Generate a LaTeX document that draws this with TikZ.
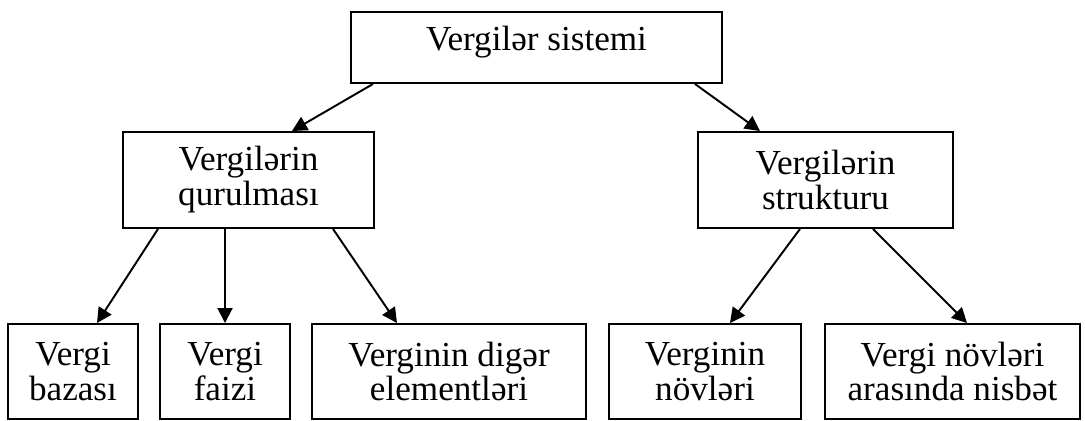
\documentclass[tikz,border=0pt]{standalone}
\usepackage{fontspec}
\setmainfont{Liberation Serif}
\usetikzlibrary{arrows.meta}
\usetikzlibrary{calc}
\tikzset{taxbox/.style={draw,rectangle,line width=1.1pt,inner sep=0pt,align=center,
                        font=\fontsize{20}{19.9}\selectfont},
         link/.style={line width=1.1pt,-{Triangle[length=0.3cm,width=0.3cm]}},
         }
\begin{document}
\begin{tikzpicture}[x=0.02cm, y=-0.02cm]
\useasboundingbox (0,0) rectangle (1085,421);
\node[taxbox, minimum width=371*0.02cm, minimum height=71*0.02cm,
      text height=0.48cm, text depth=0.36cm] (system) at (536.5,47.5) {Vergilər sistemi};
\node[taxbox, minimum width=251*0.02cm, minimum height=96*0.02cm] (build) at (248.5,180) {Vergilərin\\qurulması};
\node[taxbox, minimum width=255*0.02cm, minimum height=96*0.02cm] (struct) at (825.5,180) {Vergilərin\\strukturu};
\node[taxbox, minimum width=130*0.02cm, minimum height=95*0.02cm] (base) at (73,371.5) {Vergi\\bazası};
\node[taxbox, minimum width=130*0.02cm, minimum height=95*0.02cm] (rate) at (225,371.5) {Vergi\\faizi};
\node[taxbox, minimum width=274*0.02cm, minimum height=95*0.02cm] (other) at (449,371.5) {Verginin digər\\elementləri};
\node[taxbox, minimum width=192*0.02cm, minimum height=95*0.02cm] (kinds) at (705,371.5) {Verginin\\növləri};
\node[taxbox, minimum width=255*0.02cm, minimum height=95*0.02cm] (ratio) at (952.5,371.5) {Vergi növləri\\arasında nisbət};

\draw[link] ($(system.south)+(-163.5,0)$) -- ($(build.north)+(43.5,0)$);
\draw[link] ($(system.south)+(158.5,0)$) -- ($(struct.north)+(-65.5,0)$);
\draw[link] ($(build.south)+(-90.5,0)$) -- ($(base.north)+(24,0)$);
\draw[link] ($(build.south)+(-23.5,0)$) -- (rate.north);
\draw[link] ($(build.south)+(84.5,0)$) -- ($(other.north)+(-52,0)$);
\draw[link] ($(struct.south)+(-25.5,0)$) -- ($(kinds.north)+(25,0)$);
\draw[link] ($(struct.south)+(47.5,0)$) -- ($(ratio.north)+(14.5,0)$);
\end{tikzpicture}
\end{document}
